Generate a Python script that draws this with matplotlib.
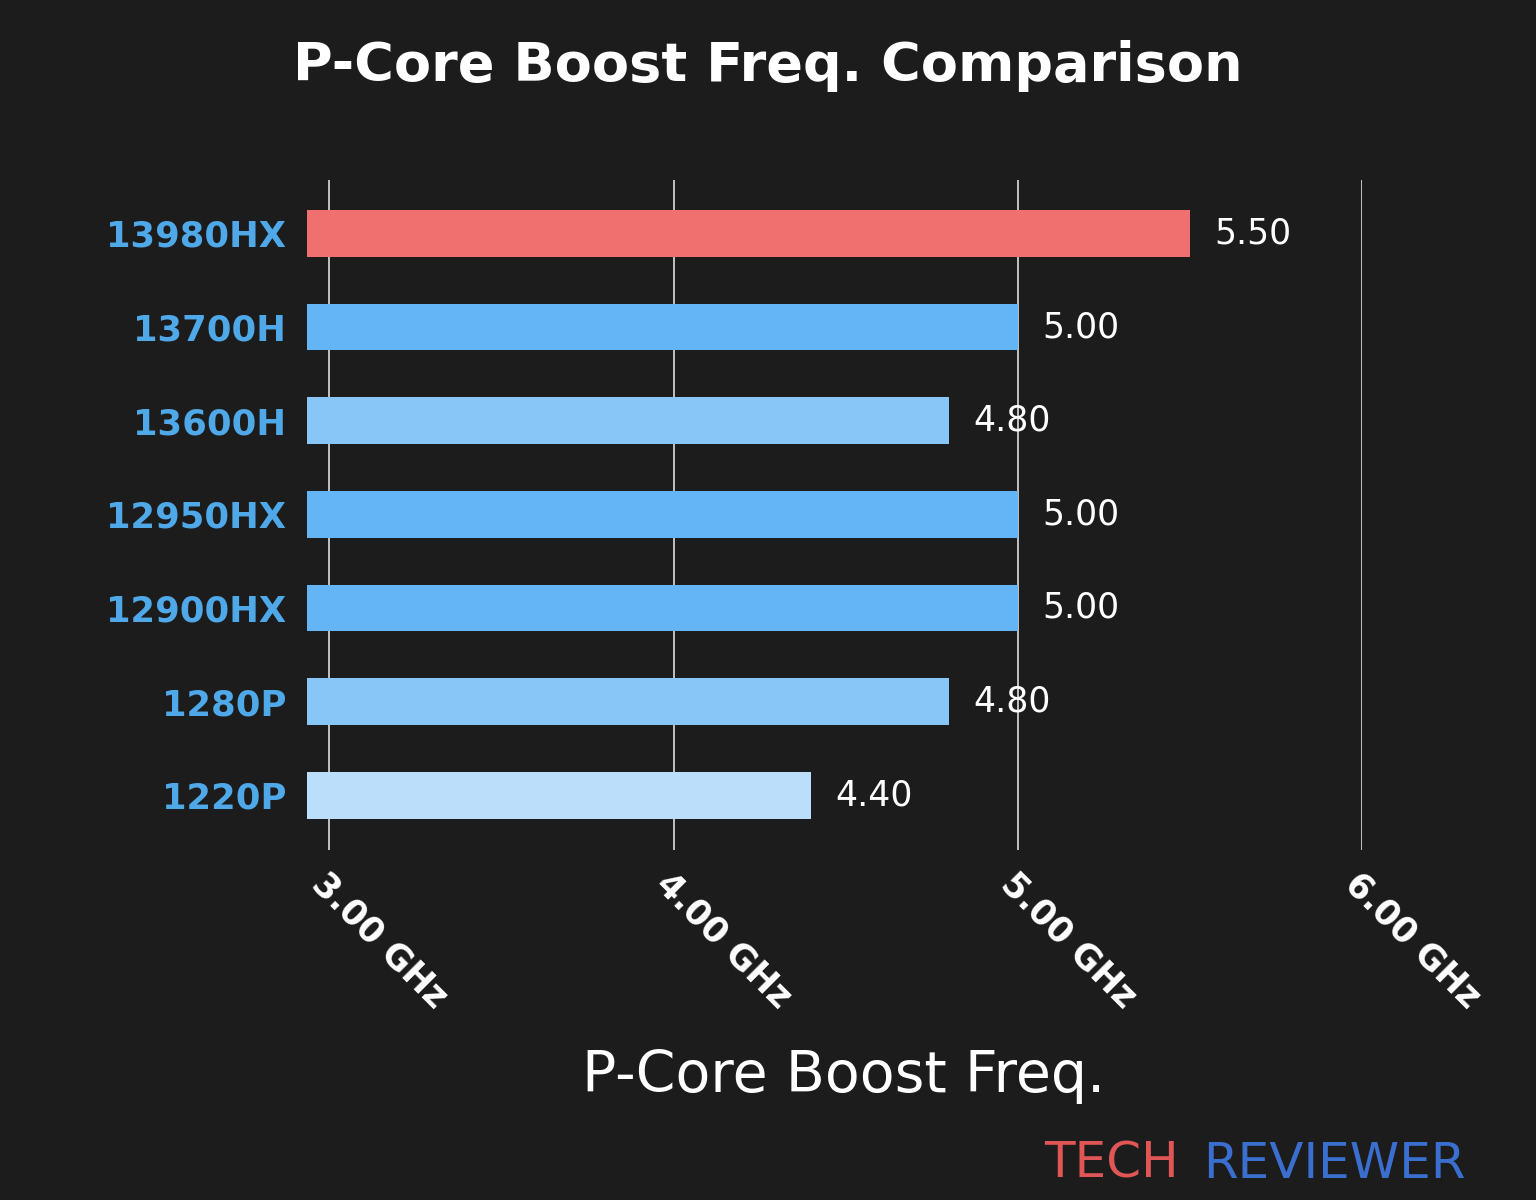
import matplotlib
matplotlib.use("Agg")
import matplotlib.pyplot as plt

cpus = ["13980HX", "13700H", "13600H", "12950HX", "12900HX", "1280P", "1220P"]
freqs = [5.50, 5.00, 4.80, 5.00, 5.00, 4.80, 4.40]
colors = ["#F07070", "#64B5F6", "#88C6F7", "#64B5F6", "#64B5F6", "#88C6F7", "#BBDEFB"]
ticks = [3.0, 4.0, 5.0, 6.0]
tick_labels = ["3.00 GHz", "4.00 GHz", "5.00 GHz", "6.00 GHz"]

bg = "#1c1c1c"
fig = plt.figure(figsize=(15.36, 12), dpi=100, facecolor=bg)
ax = fig.add_axes([0.2, 0.292, 0.687, 0.558], facecolor=bg)
y = list(range(len(cpus)))[::-1]
ax.barh(y, freqs, height=0.5, color=colors, zorder=2)
ax.set_xlim(2.936, 6.0)
ax.set_ylim(-0.58, 6.57)
ax.set_yticks(y)
ax.set_yticklabels(cpus, fontsize=25.5, fontweight="bold", color="#4FA8E8")
ax.set_xticks(ticks)
ax.set_xticklabels(tick_labels, fontsize=25, fontweight="bold", color="white",
                   rotation=-45, ha="left", rotation_mode="anchor")
ax.tick_params(axis="y", length=0, pad=15)
ax.tick_params(axis="x", length=0, pad=12)
for s in ax.spines.values():
    s.set_visible(False)
ax.grid(axis="x", color="#dddddd", linewidth=1.2, zorder=1)
for yi, v in zip(y, freqs):
    ax.text(v + 0.07, yi, f"{v:.2f}", va="center", ha="left", fontsize=25, color="white", zorder=3)
fig.text(0.5, 0.945, "P-Core Boost Freq. Comparison", ha="center", va="center",
         fontsize=39, fontweight="bold", color="white")
fig.text(0.549, 0.103, "P-Core Boost Freq.", ha="center", va="center", fontsize=41, color="white")
fig.text(0.68, 0.03, "TECH", ha="left", va="center", fontsize=36, color="#E05555")
fig.text(0.783, 0.03, "REVIEWER", ha="left", va="center", fontsize=36, color="#3A6FD0")
fig.savefig("out.png", dpi=100, facecolor=bg)
